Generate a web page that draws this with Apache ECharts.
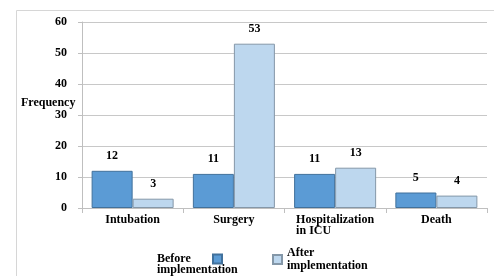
<!DOCTYPE html>
<html lang="en">
  <head>
    <meta charset="utf-8">
    <title>Frequency before / after implementation</title>
    <script type="text/javascript" src="https://cdn.jsdelivr.net/npm/echarts@6/dist/echarts.min.js"></script>
    <style>
      html, body { margin:0; padding:0; background:#fff; }
      #chart { width:494px; height:276px; }
    </style>
  </head>
  <body>
    <div id="chart"></div>
    <script type="text/javascript">
      // data
      var categories = ['Intubation', 'Surgery', 'Hospitalization\nin ICU', 'Death'];
      var beforeValues = [12, 11, 11, 5];
      var afterValues = [3, 53, 13, 4];
      var seriesNames = ['Before implementation', 'After implementation'];

      var FONT = '"Liberation Serif", serif';
      var txt = { fontFamily: FONT, fontWeight: 'bold', fontSize: 12, color: '#000' };
      var leftRich = {
        s: { lineHeight: 11, fontSize: 12 },
        l: { align: 'left', fontFamily: FONT, fontWeight: 'bold', fontSize: 12, lineHeight: 11, color: '#000' },
        w: { align: 'left', width: 51, fontFamily: FONT, fontWeight: 'bold', fontSize: 12, lineHeight: 11, color: '#000' },
        a: { align: 'left', fontFamily: FONT, fontWeight: 'bold', fontSize: 12, lineHeight: 13, color: '#000' }
      };

      //多行文字左对齐
      function leftLines(str, key) {
        return str.split('\n').map(function (s) { return '{' + (key || 'l') + '|' + s + '}'; }).join('\n');
      }

      var myChart = echarts.init(document.getElementById('chart'));
      var option = {
        animation: false,
        grid: { left: 82, right: 7, top: 22, bottom: 68 },
        graphic: [
          {
            type: 'rect', left: 14, top: 8, silent: true,
            shape: { width: 500, height: 300 },
            style: { fill: 'none', stroke: '#d6d6d6', lineWidth: 1 }
          },
          {
            type: 'text', left: 21, top: 97,
            style: { text: 'Frequency', font: 'bold 12px ' + FONT, fill: '#000' }
          }
        ],
        legend: [
          {
            data: [seriesNames[0]],
            left: 152, top: 237,
            align: 'right',
            icon: 'rect', itemWidth: 9, itemHeight: 9, itemGap: 0,
            formatter: function (n) {
              var p = n.split(' ');
              return '{s| }\n{l|' + p[0] + '}\n{w|' + p[1] + '}';
            },
            textStyle: { rich: leftRich }
          },
          {
            data: [seriesNames[1]],
            left: 267, top: 242,
            align: 'left',
            icon: 'rect', itemWidth: 9, itemHeight: 9, itemGap: 0,
            formatter: function (n) { return leftLines(n.replace(' ', '\n'), 'a'); },
            textStyle: { rich: leftRich }
          }
        ],
        xAxis: {
          type: 'category',
          data: categories,
          axisLine: { lineStyle: { color: '#bfbfbf' } },
          axisTick: { show: true, length: 5, lineStyle: { color: '#bfbfbf' } },
          axisLabel: Object.assign({
            margin: 6, interval: 0,
            formatter: function (v) { return leftLines(v); },
            rich: leftRich
          }, txt)
        },
        yAxis: {
          type: 'value',
          min: 0, max: 60, interval: 10,
          axisLine: { show: true, lineStyle: { color: '#bfbfbf' } },
          axisTick: { show: true, length: 4, lineStyle: { color: '#bfbfbf' } },
          splitLine: { lineStyle: { color: '#c8c8c8' } },
          axisLabel: Object.assign({ margin: 15 }, txt)
        },
        series: [
          {
            name: seriesNames[0],
            type: 'bar',
            data: beforeValues,
            barGap: '0%',
            barCategoryGap: '19%',
            itemStyle: { color: '#5b9bd5', borderColor: '#41719c', borderWidth: 1 },
            label: Object.assign({ show: true, position: 'top', distance: 9 }, txt)
          },
          {
            name: seriesNames[1],
            type: 'bar',
            data: afterValues,
            itemStyle: { color: '#bdd7ee', borderColor: '#8497a8', borderWidth: 1 },
            label: Object.assign({ show: true, position: 'top', distance: 9 }, txt)
          }
        ]
      };
      myChart.setOption(option);
    </script>
  </body>
</html>
